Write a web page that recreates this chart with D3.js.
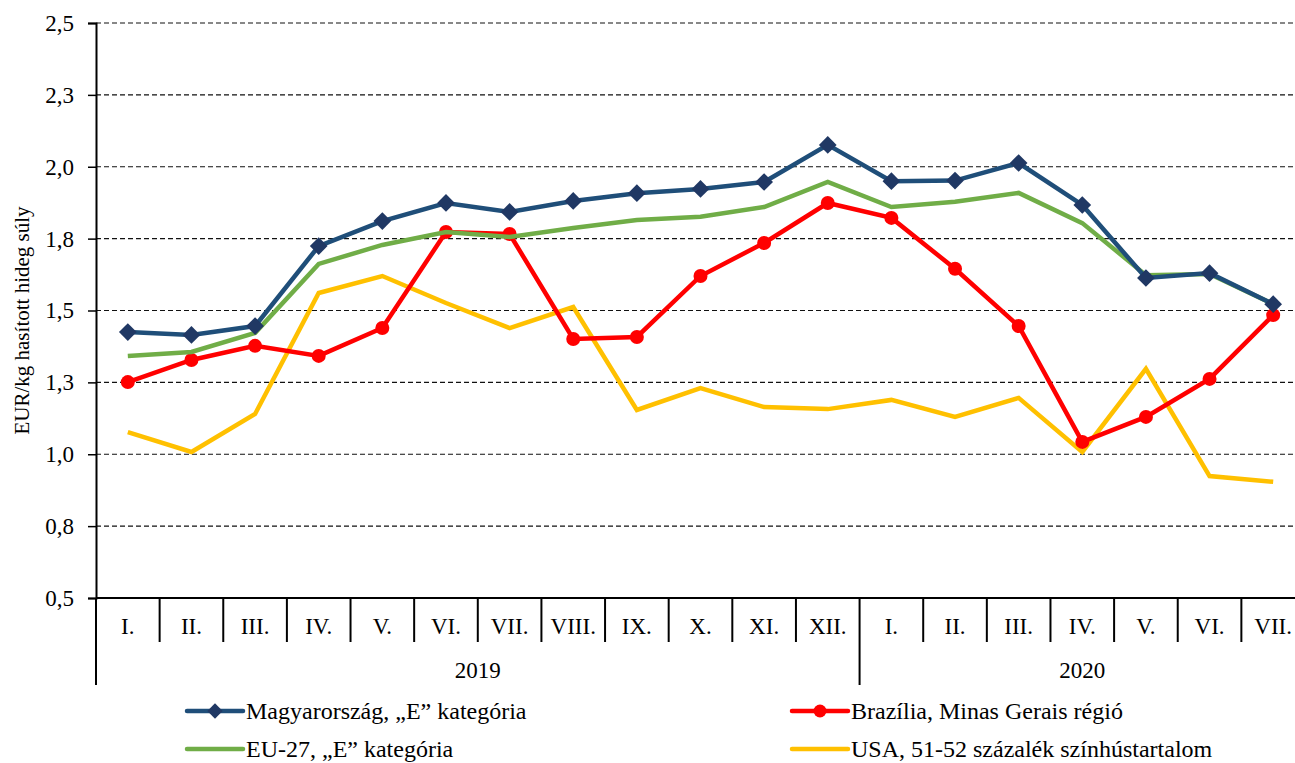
<!DOCTYPE html>
<html>
<head>
<meta charset="utf-8">
<script src="https://cdn.jsdelivr.net/npm/d3@7/dist/d3.min.js"></script>
<style>
  body { margin: 0; background: #fff; }
  text { font-family: "Liberation Serif", serif; }
</style>
</head>
<body>
<div id="chart"></div>
<script>
// month labels, two years
const months2019 = ['I.', 'II.', 'III.', 'IV.', 'V.', 'VI.', 'VII.', 'VIII.', 'IX.', 'X.', 'XI.', 'XII.'];
const months2020 = ['I.', 'II.', 'III.', 'IV.', 'V.', 'VI.', 'VII.'];
const years = ['2019', '2020'];

// y ticks + their printed labels
const yTicks = [0.5, 0.75, 1.0, 1.25, 1.5, 1.75, 2.0, 2.25, 2.5];
const yTickLabels = ['0,5', '0,8', '1,0', '1,3', '1,5', '1,8', '2,0', '2,3', '2,5'];

// series values (EUR/kg)
const hungary = [1.425, 1.415, 1.446, 1.724, 1.811, 1.874, 1.843, 1.881, 1.908, 1.923, 1.947, 2.076,
  1.950, 1.952, 2.013, 1.867, 1.613, 1.630, 1.522];
const eu27 = [1.342, 1.356, 1.422, 1.662, 1.728, 1.773, 1.756, 1.787, 1.815, 1.826, 1.860, 1.947,
  1.860, 1.878, 1.909, 1.804, 1.623, 1.627, 1.522];
const brazil = [1.251, 1.328, 1.377, 1.342, 1.439, 1.773, 1.766, 1.401, 1.408, 1.620, 1.735, 1.874,
  1.822, 1.645, 1.446, 1.043, 1.130, 1.262, 1.484];
const usa = [1.077, 1.008, 1.140, 1.561, 1.620, 1.526, 1.439, 1.512, 1.154, 1.230, 1.164, 1.157,
  1.189, 1.130, 1.196, 1.008, 1.297, 0.924, 0.904];

const seriesNames = ['Magyarország, „E” kategória', 'EU-27, „E” kategória',
  'Brazília, Minas Gerais régió', 'USA, 51-52 százalék színhústartalom'];

const FONT = '"Liberation Serif", serif';
const W = 1295, H = 763;
// plot box (named so they don't clash with window.top)
const plotL = 96, plotR = 1305, plotT = 23, plotB = 598;

const svg = d3.select('#chart').append('svg')
  .attr('width', W).attr('height', H)
  .attr('font-family', FONT);

// one key per month so duplicate labels stay separate
const cats = months2019.map((m) => '2019-' + m).concat(months2020.map((m) => '2020-' + m));
const catLabel = months2019.concat(months2020);

const x = d3.scaleBand().domain(cats).range([plotL, plotR]);
const y = d3.scaleLinear().domain([0.5, 2.5]).range([plotB, plotT]);

// dashed gridlines
svg.append('g')
  .selectAll('line')
  .data(yTicks.slice(1))
  .enter()
  .append('line')
  .attr('x1', plotL)
  .attr('x2', plotR)
  .attr('y1', (d) => y(d))
  .attr('y2', (d) => y(d))
  .attr('stroke', '#111')
  .attr('stroke-width', 1.2)
  .attr('stroke-dasharray', '5,3');

// y axis
const yAxis = svg.append('g')
  .attr('transform', `translate(${plotL},0)`)
  .call(d3.axisLeft(y).tickValues(yTicks).tickSize(8).tickPadding(14)
    .tickFormat((d, i) => yTickLabels[i]));
yAxis.attr('font-family', FONT);
yAxis.select('.domain').attr('stroke', '#000').attr('stroke-width', 2);
yAxis.selectAll('.tick line').attr('stroke', '#000').attr('stroke-width', 1.5);
yAxis.selectAll('.tick text').attr('font-size', 23).attr('fill', '#000')
  .attr('font-family', FONT);

svg.append('text')
  .attr('transform', `translate(29,${(plotT + plotB) / 2 + 10}) rotate(-90)`)
  .attr('text-anchor', 'middle')
  .attr('font-family', FONT)
  .attr('font-size', 21)
  .text('EUR/kg hasított hideg súly');

// x axis base + category dividers
const xg = svg.append('g');
xg.append('line')
  .attr('x1', plotL).attr('x2', plotR)
  .attr('y1', plotB).attr('y2', plotB)
  .attr('stroke', '#000').attr('stroke-width', 2);

xg.selectAll('line.div')
  .data(cats)
  .enter()
  .append('line')
  .attr('class', 'div')
  .attr('x1', (d) => x(d))
  .attr('x2', (d) => x(d))
  .attr('y1', plotB)
  .attr('y2', (d, i) => (i === 0 || i === months2019.length ? 685 : 642))
  .attr('stroke', '#000')
  .attr('stroke-width', 2);

xg.selectAll('text.month')
  .data(cats)
  .enter()
  .append('text')
  .attr('class', 'month')
  .attr('x', (d) => x(d) + x.bandwidth() / 2)
  .attr('y', 634)
  .attr('text-anchor', 'middle')
  .attr('font-family', FONT)
  .attr('font-size', 23)
  .text((d, i) => catLabel[i]);

// year labels centered on their month span
const yearSpans = [
  [x(cats[0]), x(cats[months2019.length - 1]) + x.bandwidth()],
  [x(cats[months2019.length]), x(cats[cats.length - 1]) + x.bandwidth()],
];
xg.selectAll('text.year')
  .data(years)
  .enter()
  .append('text')
  .attr('class', 'year')
  .attr('x', (d, i) => (yearSpans[i][0] + yearSpans[i][1]) / 2)
  .attr('y', 678)
  .attr('text-anchor', 'middle')
  .attr('font-family', FONT)
  .attr('font-size', 23)
  .text((d) => d);

// lines
const line = d3.line()
  .x((d, i) => x(cats[i]) + x.bandwidth() / 2)
  .y((d) => y(d));

const series = [
  { vals: usa, color: '#FFC000', marker: null },
  { vals: brazil, color: '#FF0000', marker: 'circle' },
  { vals: eu27, color: '#70AD47', marker: null },
  { vals: hungary, color: '#1F4E79', marker: 'diamond', markerColor: '#203864' },
];

const diamond = d3.symbol().type(d3.symbolDiamond2).size(200);

series.forEach((s) => {
  svg.append('path')
    .datum(s.vals)
    .attr('fill', 'none')
    .attr('stroke', s.color)
    .attr('stroke-width', 4.5)
    .attr('stroke-linejoin', 'miter')
    .attr('d', line);

  if (s.marker === 'circle') {
    svg.append('g')
      .selectAll('circle')
      .data(s.vals)
      .enter()
      .append('circle')
      .attr('cx', (d, i) => x(cats[i]) + x.bandwidth() / 2)
      .attr('cy', (d) => y(d))
      .attr('r', 7)
      .attr('fill', s.color);
  } else if (s.marker === 'diamond') {
    svg.append('g')
      .selectAll('path')
      .data(s.vals)
      .enter()
      .append('path')
      .attr('d', diamond)
      .attr('transform', (d, i) => `translate(${x(cats[i]) + x.bandwidth() / 2},${y(d)})`)
      .attr('fill', s.markerColor);
  }
});

// legend
const legendItems = [
  { name: seriesNames[0], color: '#1F4E79', marker: 'diamond', mc: '#203864', lx: 187, ly: 711 },
  { name: seriesNames[2], color: '#FF0000', marker: 'circle', mc: '#FF0000', lx: 792, ly: 711 },
  { name: seriesNames[1], color: '#70AD47', marker: null, lx: 187, ly: 749 },
  { name: seriesNames[3], color: '#FFC000', marker: null, lx: 792, ly: 749 },
];

const lg = svg.append('g');
legendItems.forEach((it) => {
  lg.append('line')
    .attr('x1', it.lx).attr('x2', it.lx + 56)
    .attr('y1', it.ly).attr('y2', it.ly)
    .attr('stroke', it.color).attr('stroke-width', 4.5)
    .attr('stroke-linecap', 'round');
  if (it.marker === 'diamond') {
    lg.append('path').attr('d', d3.symbol().type(d3.symbolDiamond2).size(150))
      .attr('transform', `translate(${it.lx + 28},${it.ly})`).attr('fill', it.mc);
  } else if (it.marker === 'circle') {
    lg.append('circle').attr('cx', it.lx + 28).attr('cy', it.ly).attr('r', 6.5).attr('fill', it.mc);
  }
  lg.append('text')
    .attr('x', it.lx + 59)
    .attr('y', it.ly + 8)
    .attr('font-family', FONT)
    .attr('font-size', 24)
    .text(it.name);
});
</script>
</body>
</html>
